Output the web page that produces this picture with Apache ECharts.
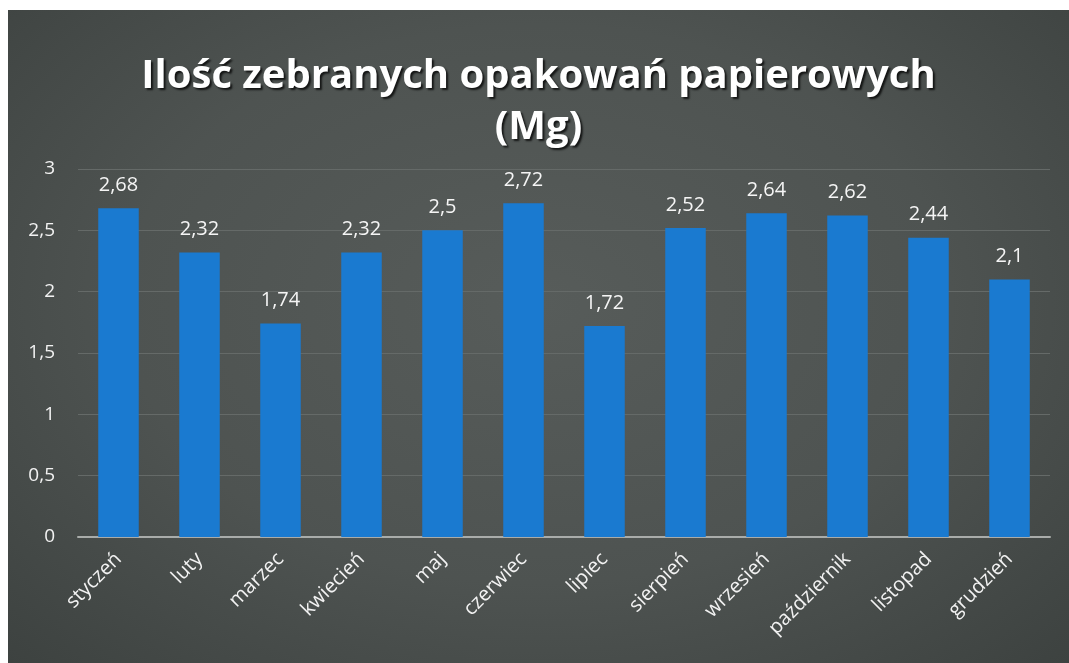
<!DOCTYPE html>
<html>
<head>
<meta charset="utf-8">
<script src="https://cdn.jsdelivr.net/npm/echarts@6/dist/echarts.min.js"></script>
<style>
  html, body { margin: 0; padding: 0; background: #fff; }
  #chart {
    position: absolute;
    left: 8px;
    top: 10px;
    width: 1061px;
    height: 653px;
    background: radial-gradient(ellipse at 50% 45%, #575c5a 0%, #4e5351 55%, #3d4240 100%);
  }
</style>
</head>
<body>
<div id="chart"></div>
<script>
  // dane z wykresu
  const months = ['styczeń', 'luty', 'marzec', 'kwiecień', 'maj', 'czerwiec', 'lipiec', 'sierpień', 'wrzesień', 'październik', 'listopad', 'grudzień'];
  const amounts = [2.68, 2.32, 1.74, 2.32, 2.5, 2.72, 1.72, 2.52, 2.64, 2.62, 2.44, 2.1];
  const yTicks = [0, 0.5, 1, 1.5, 2, 2.5, 3];

  const fmt = v => String(v).replace('.', ',');

  const chart = echarts.init(document.getElementById('chart'));

  const option = {
    backgroundColor: 'transparent',
    animation: false,
    title: {
      text: 'Ilość zebranych opakowań papierowych\n(Mg)',
      left: 'center',
      top: 36,
      textStyle: {
        color: '#ffffff',
        fontFamily: 'Open Sans',
        fontWeight: 700,
        fontSize: 40,
        lineHeight: 51,
        textShadowColor: 'rgba(0,0,0,0.75)',
        textShadowBlur: 2,
        textShadowOffsetX: 2,
        textShadowOffsetY: 2
      }
    },
    grid: { left: 70, right: 19, top: 159, bottom: 126 },
    xAxis: {
      type: 'category',
      data: months,
      axisLine: { lineStyle: { color: '#a9acaa', width: 2 } },
      axisTick: { show: false },
      axisLabel: {
        rotate: 45,
        interval: 0,
        margin: 19,
        color: '#f2f2f2',
        fontFamily: 'Open Sans',
        fontSize: 20
      }
    },
    yAxis: {
      type: 'value',
      min: yTicks[0],
      max: yTicks[yTicks.length - 1],
      interval: 0.5,
      axisLine: { show: false },
      axisTick: { show: false },
      axisLabel: {
        margin: 23,
        color: '#f2f2f2',
        fontFamily: 'Open Sans',
        fontSize: 19,
        formatter: v => fmt(v)
      },
      splitLine: { lineStyle: { color: '#656a68', width: 1 } }
    },
    series: [{
      type: 'bar',
      data: amounts,
      barWidth: '50%',
      itemStyle: { color: '#1a7ad0' },
      label: {
        show: true,
        position: 'top',
        distance: 13,
        color: '#f5f5f5',
        fontFamily: 'Open Sans',
        fontSize: 20,
        formatter: p => fmt(p.value)
      }
    }]
  };

  chart.setOption(option);
</script>
</body>
</html>
